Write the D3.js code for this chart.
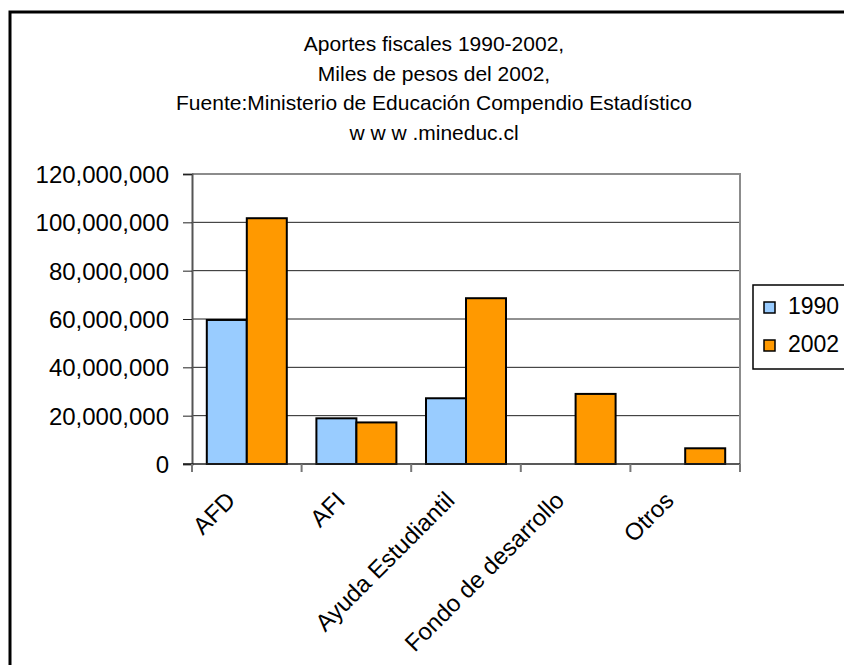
<!DOCTYPE html>
<html>
<head>
<meta charset="utf-8">
<script src="https://cdn.jsdelivr.net/npm/d3@7"></script>
<style>
  body { margin: 0; background: #fff; }
  text { font-family: "Liberation Sans", Arial, sans-serif; fill: #000; }
</style>
</head>
<body>
<svg id="chart" width="844" height="665"></svg>
<script>
// chart data
var categories = ["AFD", "AFI", "Ayuda Estudiantil", "Fondo de desarrollo", "Otros"];
var seriesNames = ["1990", "2002"];
var values1990 = [59600000, 18900000, 27200000, 0, 0];
var values2002 = [101700000, 17200000, 68600000, 29000000, 6500000];
var yTicks = [0, 20000000, 40000000, 60000000, 80000000, 100000000, 120000000];
var titleLines = [
  "Aportes fiscales 1990-2002,",
  "Miles de pesos del 2002,",
  "Fuente:Ministerio de Educación Compendio Estadístico",
  "w w w .mineduc.cl"
];
var colors = ["#99CCFF", "#FF9900"];

var svg = d3.select("#chart");
var plot = {left: 192, top: 174, right: 740, bottom: 464};

// outer frame
svg.append("rect")
  .attr("x", 10).attr("y", 12)
  .attr("width", 900).attr("height", 700)
  .attr("fill", "none").attr("stroke", "#000").attr("stroke-width", 3);

// title
svg.selectAll(".title")
  .data(titleLines)
  .enter().append("text")
  .attr("class", "title")
  .attr("x", 434)
  .attr("y", (d, i) => 51 + i * 29.5)
  .attr("text-anchor", "middle")
  .style("font-size", "21px")
  .text(d => d);

var x = d3.scaleBand()
  .domain(categories)
  .range([plot.left, plot.right])
  .paddingInner(0)
  .paddingOuter(0);

var xInner = d3.scaleBand()
  .domain(seriesNames)
  .range([0, x.bandwidth()])
  .paddingInner(0)
  .paddingOuter(0.37);

var y = d3.scaleLinear()
  .domain([0, 120000000])
  .range([plot.bottom, plot.top]);

// gridlines
svg.append("g")
  .selectAll("line")
  .data(yTicks.slice(1, -1))
  .enter().append("line")
  .attr("x1", plot.left).attr("x2", plot.right)
  .attr("y1", d => y(d)).attr("y2", d => y(d))
  .attr("stroke", "#222").attr("stroke-width", 1);

// plot border (top and right)
svg.append("path")
  .attr("d", "M" + plot.left + "," + plot.top + "H" + plot.right + "V" + plot.bottom)
  .attr("fill", "none").attr("stroke", "#8c8c8c").attr("stroke-width", 2);

// bars
var rows = categories.map((c, i) => ({cat: c, vals: [values1990[i], values2002[i]]}));
var groups = svg.append("g").selectAll("g")
  .data(rows)
  .enter().append("g")
  .attr("transform", d => "translate(" + x(d.cat) + ",0)");

groups.selectAll("rect")
  .data(d => d.vals.map((v, j) => ({name: seriesNames[j], v: v, j: j})).filter(e => e.v > 0))
  .enter().append("rect")
  .attr("x", d => xInner(d.name))
  .attr("width", xInner.bandwidth())
  .attr("y", d => y(d.v))
  .attr("height", d => y(0) - y(d.v))
  .attr("fill", d => colors[d.j])
  .attr("stroke", "#000").attr("stroke-width", 2);

// y axis
var yAxis = d3.axisLeft(y)
  .tickValues(yTicks)
  .tickSize(9)
  .tickPadding(14)
  .tickFormat(d3.format(","));
var yg = svg.append("g")
  .attr("transform", "translate(" + plot.left + ",0)")
  .call(yAxis);
yg.select(".domain").attr("stroke", "#555").attr("stroke-width", 2);
yg.selectAll(".tick line").attr("stroke", "#222");
yg.selectAll(".tick text")
  .style("font-size", "24px")
  .style("font-family", "'Liberation Sans', Arial, sans-serif")
  .attr("fill", "#000")
  .attr("dy", "0.35em");

// x axis line and ticks
svg.append("line")
  .attr("x1", plot.left - 9).attr("x2", plot.right)
  .attr("y1", plot.bottom).attr("y2", plot.bottom)
  .attr("stroke", "#222").attr("stroke-width", 1.5);
var boundaries = categories.map(c => x(c)).concat([plot.right]);
svg.append("g").selectAll("line")
  .data(boundaries)
  .enter().append("line")
  .attr("x1", d => d).attr("x2", d => d)
  .attr("y1", plot.bottom).attr("y2", plot.bottom + 8)
  .attr("stroke", "#777").attr("stroke-width", 2);

// category labels
svg.append("g").selectAll("text")
  .data(categories)
  .enter().append("text")
  .attr("transform", d => "translate(" + (x(d) + x.bandwidth() / 2 - 10) + "," + (plot.bottom + 38) + ") rotate(-45)")
  .attr("text-anchor", "end")
  .style("font-size", "24px")
  .text(d => d);

// legend
var legend = svg.append("g").attr("transform", "translate(753,285)");
legend.append("rect")
  .attr("width", 120).attr("height", 84)
  .attr("fill", "#fff").attr("stroke", "#000").attr("stroke-width", 1.5);
var items = legend.selectAll(".item")
  .data(seriesNames)
  .enter().append("g")
  .attr("transform", (d, i) => "translate(11," + (17 + i * 38) + ")");
items.append("rect")
  .attr("width", 11).attr("height", 11)
  .attr("fill", (d, i) => colors[i])
  .attr("stroke", "#000").attr("stroke-width", 1.5);
items.append("text")
  .attr("x", 24).attr("y", 12)
  .style("font-size", "23px")
  .text(d => d);
</script>
</body>
</html>
